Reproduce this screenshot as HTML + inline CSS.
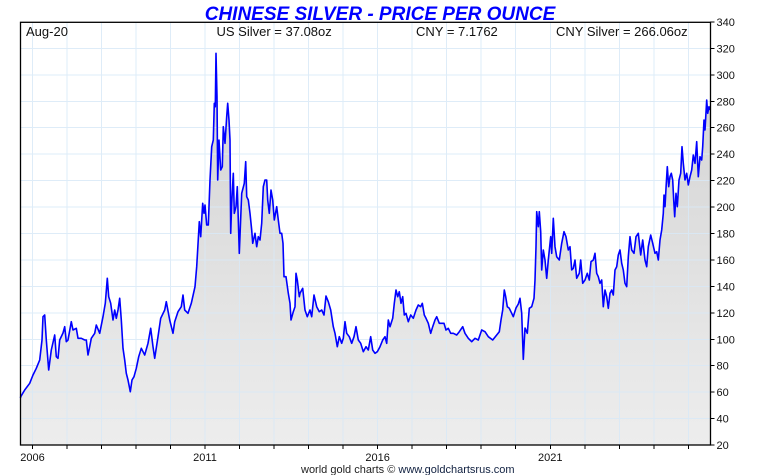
<!DOCTYPE html>
<html><head><meta charset="utf-8"><style>
html,body{margin:0;padding:0;background:#fff;}
svg{display:block;font-family:"Liberation Sans",Arial,sans-serif;}
</style></head><body>
<svg width="760" height="475" viewBox="0 0 760 475" xmlns="http://www.w3.org/2000/svg">
<defs>
<linearGradient id="g" gradientUnits="userSpaceOnUse" x1="0" y1="50" x2="0" y2="445">
<stop offset="0" stop-color="#d2d2d2"/><stop offset="1" stop-color="#ededed"/>
</linearGradient>
</defs>
<rect x="0" y="0" width="760" height="475" fill="#fff"/>
<path id="area" fill="url(#g)" stroke="none" d="M20.5,398 L20.7,396.7 24.7,390 29.7,383.3 33,375 36.3,368.3 39.7,360 42,340 43,316.7 44.7,315 46.3,340 48.7,370 51.3,350 54.7,335 56.3,356.7 58,358.3 59.7,340 63,333 64.7,326.7 66.3,341.7 68,340 71.3,321.7 73,330 76.3,328.3 78,338.3 81.3,338.3 84.7,340 86.3,340 88,355 89.7,346.7 91.3,338.3 94.7,333.3 96.3,325 99.7,333.3 103,316.7 105.3,303.3 107.3,278.3 108.7,296.7 110.7,303.3 113,320 114.7,310 116.3,318.3 118,310 119.7,298.3 121.3,320 123,348.3 124.7,360 126.3,373.3 128,380 130.3,391.7 132,380 134,376.7 136.3,368.3 138.7,356.7 141.3,348.3 144.7,355 148,343.3 150.7,328.3 153,346.7 154.7,358.3 158,336.7 160.7,318.3 164.7,310 166.3,301.7 169.7,320 173,333.3 174.7,321.7 178,311.7 181.3,306.7 183,295 184.7,310 188,313.3 191.3,303.3 195,286.7 196.7,266.7 199.3,221.7 200.7,236.7 202.7,203.3 204,213.3 205,205 206.7,225 208.3,225 210,180 211.7,146.7 213.3,140 214.3,103.3 215.3,106.7 216,53.3 217,96.7 217.7,180 219,140 220.7,170 222.3,166.7 223.3,126.7 225,143.3 226.7,116.7 227.7,103.3 229,120 230,140 230.7,233.3 231.7,203.3 233.3,173.3 234.3,213.3 236,206.7 237.3,186.7 239.3,253.3 241.7,193.3 244.3,183.3 245.7,161.7 246.7,196.7 248.3,200 250,213.3 251.7,230 252.7,243.3 255,233.3 256.7,246.7 258.3,236.7 260,240 261.7,223.3 263.3,186.7 265,180 266.7,180 267.7,200 269.3,213.3 271,190 272.7,200 274.3,220 276.7,206.7 278.3,220 280,233.3 281.7,233.3 283,243.3 284,276.7 286,276.7 288.3,293.3 290,303.3 291,320 293.3,311.7 295,306.7 296,273.3 297.3,280 299.3,296.7 300,293.3 302.7,288.3 305,310 307.3,316.7 310,310 311.7,316.7 314,295 316.7,306.7 319.3,311.7 321.7,310 324,315 326,296 328.3,301.7 330.7,310 333.3,326.7 335,333.3 337.3,346.7 339.3,336.7 341.7,343.3 343.3,338.3 345,321.7 346.7,333.3 349.3,336.7 351.7,343.3 354,336.7 356,326.7 358.3,340 360.7,343.3 363.3,351.7 366,346.7 368.3,350 370.7,336.7 372.7,350 375,353.3 377.3,351.7 380,346.7 382.7,340 385,336.7 386.7,343.3 388.3,320 390,326.7 392.7,318.3 394.3,303.3 396,290 397.7,296.7 399.3,291.7 401,303.3 402.7,296.7 404.3,315 406,313.3 408.3,321.7 410.7,315 413.3,318.3 416,310 418.3,305 420.7,306.7 422.3,303.3 424.3,315 426,318.3 428.3,323.3 430.7,333.3 432.7,326.7 435,320 436.7,316.7 439.3,323.3 441.7,323.3 444,323.3 446,330 448.3,328.3 450.7,333.3 453.3,333.3 456.7,335 459.3,331.7 462.7,326.7 465,333.3 468.3,338.3 471.7,341.7 475,338.3 478.3,340 481.7,330 485,331.7 488.3,336.7 492.7,340 496.7,335 499.3,331.7 501,320 502.7,310 504.3,290 505.7,296.7 507.3,306.7 509.3,308.3 511.7,313.3 513.3,316.7 516,308 518.3,304 520,298.3 521.7,313.3 523.3,359.3 525,328 527.3,333.3 529.3,308.3 531.7,306.7 534,298.3 535,280 536,246.7 536.7,211.7 538.3,226.7 539.3,211.7 540.7,231.7 541.7,270 543.3,250 545,260 546.7,278.3 548.3,260 550.7,236.7 551.7,253.3 553.3,218.3 555,246.7 556.7,256.7 559.3,260 561.7,243.3 564,231.7 566,236.7 568.3,250 570,246.7 571.7,270 573.3,268.3 575,260 576.7,278.3 579.3,273.3 580.7,260 582.7,283.3 585,280 587.3,273.3 589.3,280 591,261.7 593.3,260 595,253.3 596.7,273.3 598.3,276.7 600,283.3 601.7,280 603.3,306.7 605,290 606.7,296.7 608.3,308.3 610,293.3 611.7,290 613.3,295 615,270 616.7,266.7 618.3,255 620,250 621.7,263.3 623.3,270 625,283.3 626.7,286.7 628.3,256.7 630,236.7 631.7,250 634,253.3 636,236.7 638.3,233.3 640.7,255 642.7,240 645,260 646.7,266.7 648.3,246.7 650.7,235 652.7,243.3 655,253.3 656.7,251.7 658.3,260 660,240 661.7,230 663.3,213.3 664,195 665,206.7 666,188.3 667.3,166.7 668.7,186.7 670,176.7 671.3,173.3 672.7,180 673.7,200 674.7,216.7 676,193.3 677.3,206.7 679,180 680.7,173.3 682,146.7 683.3,163.3 685,180 686.7,173.3 688.3,185 690,176.7 691.7,170 693.3,155 695,163.3 696.7,141.7 698.3,176.7 700,156.7 701.7,160 702.7,146.7 704,120 705,130 706.7,100 707.7,113.3 709,106.7 710,110 L710,445 L20.5,445 Z"/>
<!-- grid -->
<g stroke="#d9e9f7" stroke-width="1" opacity="0.85" shape-rendering="crispEdges">
<line x1="20" y1="48.4" x2="710" y2="48.4"/><line x1="20" y1="74.9" x2="710" y2="74.9"/><line x1="20" y1="101.3" x2="710" y2="101.3"/><line x1="20" y1="127.7" x2="710" y2="127.7"/><line x1="20" y1="154.2" x2="710" y2="154.2"/><line x1="20" y1="180.6" x2="710" y2="180.6"/><line x1="20" y1="207.1" x2="710" y2="207.1"/><line x1="20" y1="233.5" x2="710" y2="233.5"/><line x1="20" y1="259.9" x2="710" y2="259.9"/><line x1="20" y1="286.4" x2="710" y2="286.4"/><line x1="20" y1="312.8" x2="710" y2="312.8"/><line x1="20" y1="339.3" x2="710" y2="339.3"/><line x1="20" y1="365.7" x2="710" y2="365.7"/><line x1="20" y1="392.1" x2="710" y2="392.1"/><line x1="20" y1="418.6" x2="710" y2="418.6"/>
<line x1="32.3" y1="22" x2="32.3" y2="445"/><line x1="66.8" y1="22" x2="66.8" y2="445"/><line x1="101.4" y1="22" x2="101.4" y2="445"/><line x1="135.9" y1="22" x2="135.9" y2="445"/><line x1="170.4" y1="22" x2="170.4" y2="445"/><line x1="205" y1="22" x2="205" y2="445"/><line x1="239.5" y1="22" x2="239.5" y2="445"/><line x1="274" y1="22" x2="274" y2="445"/><line x1="308.5" y1="22" x2="308.5" y2="445"/><line x1="343.1" y1="22" x2="343.1" y2="445"/><line x1="377.6" y1="22" x2="377.6" y2="445"/><line x1="412.1" y1="22" x2="412.1" y2="445"/><line x1="446.7" y1="22" x2="446.7" y2="445"/><line x1="481.2" y1="22" x2="481.2" y2="445"/><line x1="515.7" y1="22" x2="515.7" y2="445"/><line x1="550.3" y1="22" x2="550.3" y2="445"/><line x1="584.8" y1="22" x2="584.8" y2="445"/><line x1="619.3" y1="22" x2="619.3" y2="445"/><line x1="653.9" y1="22" x2="653.9" y2="445"/><line x1="688.4" y1="22" x2="688.4" y2="445"/>
</g>
<!-- series line -->
<path fill="none" stroke="#0000ff" stroke-width="1.6" stroke-linejoin="round" d="M20.5,398 L20.7,396.7 24.7,390 29.7,383.3 33,375 36.3,368.3 39.7,360 42,340 43,316.7 44.7,315 46.3,340 48.7,370 51.3,350 54.7,335 56.3,356.7 58,358.3 59.7,340 63,333 64.7,326.7 66.3,341.7 68,340 71.3,321.7 73,330 76.3,328.3 78,338.3 81.3,338.3 84.7,340 86.3,340 88,355 89.7,346.7 91.3,338.3 94.7,333.3 96.3,325 99.7,333.3 103,316.7 105.3,303.3 107.3,278.3 108.7,296.7 110.7,303.3 113,320 114.7,310 116.3,318.3 118,310 119.7,298.3 121.3,320 123,348.3 124.7,360 126.3,373.3 128,380 130.3,391.7 132,380 134,376.7 136.3,368.3 138.7,356.7 141.3,348.3 144.7,355 148,343.3 150.7,328.3 153,346.7 154.7,358.3 158,336.7 160.7,318.3 164.7,310 166.3,301.7 169.7,320 173,333.3 174.7,321.7 178,311.7 181.3,306.7 183,295 184.7,310 188,313.3 191.3,303.3 195,286.7 196.7,266.7 199.3,221.7 200.7,236.7 202.7,203.3 204,213.3 205,205 206.7,225 208.3,225 210,180 211.7,146.7 213.3,140 214.3,103.3 215.3,106.7 216,53.3 217,96.7 217.7,180 219,140 220.7,170 222.3,166.7 223.3,126.7 225,143.3 226.7,116.7 227.7,103.3 229,120 230,140 230.7,233.3 231.7,203.3 233.3,173.3 234.3,213.3 236,206.7 237.3,186.7 239.3,253.3 241.7,193.3 244.3,183.3 245.7,161.7 246.7,196.7 248.3,200 250,213.3 251.7,230 252.7,243.3 255,233.3 256.7,246.7 258.3,236.7 260,240 261.7,223.3 263.3,186.7 265,180 266.7,180 267.7,200 269.3,213.3 271,190 272.7,200 274.3,220 276.7,206.7 278.3,220 280,233.3 281.7,233.3 283,243.3 284,276.7 286,276.7 288.3,293.3 290,303.3 291,320 293.3,311.7 295,306.7 296,273.3 297.3,280 299.3,296.7 300,293.3 302.7,288.3 305,310 307.3,316.7 310,310 311.7,316.7 314,295 316.7,306.7 319.3,311.7 321.7,310 324,315 326,296 328.3,301.7 330.7,310 333.3,326.7 335,333.3 337.3,346.7 339.3,336.7 341.7,343.3 343.3,338.3 345,321.7 346.7,333.3 349.3,336.7 351.7,343.3 354,336.7 356,326.7 358.3,340 360.7,343.3 363.3,351.7 366,346.7 368.3,350 370.7,336.7 372.7,350 375,353.3 377.3,351.7 380,346.7 382.7,340 385,336.7 386.7,343.3 388.3,320 390,326.7 392.7,318.3 394.3,303.3 396,290 397.7,296.7 399.3,291.7 401,303.3 402.7,296.7 404.3,315 406,313.3 408.3,321.7 410.7,315 413.3,318.3 416,310 418.3,305 420.7,306.7 422.3,303.3 424.3,315 426,318.3 428.3,323.3 430.7,333.3 432.7,326.7 435,320 436.7,316.7 439.3,323.3 441.7,323.3 444,323.3 446,330 448.3,328.3 450.7,333.3 453.3,333.3 456.7,335 459.3,331.7 462.7,326.7 465,333.3 468.3,338.3 471.7,341.7 475,338.3 478.3,340 481.7,330 485,331.7 488.3,336.7 492.7,340 496.7,335 499.3,331.7 501,320 502.7,310 504.3,290 505.7,296.7 507.3,306.7 509.3,308.3 511.7,313.3 513.3,316.7 516,308 518.3,304 520,298.3 521.7,313.3 523.3,359.3 525,328 527.3,333.3 529.3,308.3 531.7,306.7 534,298.3 535,280 536,246.7 536.7,211.7 538.3,226.7 539.3,211.7 540.7,231.7 541.7,270 543.3,250 545,260 546.7,278.3 548.3,260 550.7,236.7 551.7,253.3 553.3,218.3 555,246.7 556.7,256.7 559.3,260 561.7,243.3 564,231.7 566,236.7 568.3,250 570,246.7 571.7,270 573.3,268.3 575,260 576.7,278.3 579.3,273.3 580.7,260 582.7,283.3 585,280 587.3,273.3 589.3,280 591,261.7 593.3,260 595,253.3 596.7,273.3 598.3,276.7 600,283.3 601.7,280 603.3,306.7 605,290 606.7,296.7 608.3,308.3 610,293.3 611.7,290 613.3,295 615,270 616.7,266.7 618.3,255 620,250 621.7,263.3 623.3,270 625,283.3 626.7,286.7 628.3,256.7 630,236.7 631.7,250 634,253.3 636,236.7 638.3,233.3 640.7,255 642.7,240 645,260 646.7,266.7 648.3,246.7 650.7,235 652.7,243.3 655,253.3 656.7,251.7 658.3,260 660,240 661.7,230 663.3,213.3 664,195 665,206.7 666,188.3 667.3,166.7 668.7,186.7 670,176.7 671.3,173.3 672.7,180 673.7,200 674.7,216.7 676,193.3 677.3,206.7 679,180 680.7,173.3 682,146.7 683.3,163.3 685,180 686.7,173.3 688.3,185 690,176.7 691.7,170 693.3,155 695,163.3 696.7,141.7 698.3,176.7 700,156.7 701.7,160 702.7,146.7 704,120 705,130 706.7,100 707.7,113.3 709,106.7 710,110"/>
<!-- frame -->
<g stroke="#000" stroke-width="1.3" fill="none">
<rect x="20.5" y="22.3" width="690" height="422.7"/>
</g>
<!-- ticks -->
<g stroke="#000" stroke-width="1" shape-rendering="crispEdges">
<line x1="710" y1="22" x2="714.5" y2="22"/><line x1="710" y1="48.4" x2="714.5" y2="48.4"/><line x1="710" y1="74.9" x2="714.5" y2="74.9"/><line x1="710" y1="101.3" x2="714.5" y2="101.3"/><line x1="710" y1="127.7" x2="714.5" y2="127.7"/><line x1="710" y1="154.2" x2="714.5" y2="154.2"/><line x1="710" y1="180.6" x2="714.5" y2="180.6"/><line x1="710" y1="207.1" x2="714.5" y2="207.1"/><line x1="710" y1="233.5" x2="714.5" y2="233.5"/><line x1="710" y1="259.9" x2="714.5" y2="259.9"/><line x1="710" y1="286.4" x2="714.5" y2="286.4"/><line x1="710" y1="312.8" x2="714.5" y2="312.8"/><line x1="710" y1="339.3" x2="714.5" y2="339.3"/><line x1="710" y1="365.7" x2="714.5" y2="365.7"/><line x1="710" y1="392.1" x2="714.5" y2="392.1"/><line x1="710" y1="418.6" x2="714.5" y2="418.6"/><line x1="710" y1="445" x2="714.5" y2="445"/>
<line x1="32.3" y1="445" x2="32.3" y2="449"/><line x1="66.8" y1="445" x2="66.8" y2="449"/><line x1="101.4" y1="445" x2="101.4" y2="449"/><line x1="135.9" y1="445" x2="135.9" y2="449"/><line x1="170.4" y1="445" x2="170.4" y2="449"/><line x1="205" y1="445" x2="205" y2="449"/><line x1="239.5" y1="445" x2="239.5" y2="449"/><line x1="274" y1="445" x2="274" y2="449"/><line x1="308.5" y1="445" x2="308.5" y2="449"/><line x1="343.1" y1="445" x2="343.1" y2="449"/><line x1="377.6" y1="445" x2="377.6" y2="449"/><line x1="412.1" y1="445" x2="412.1" y2="449"/><line x1="446.7" y1="445" x2="446.7" y2="449"/><line x1="481.2" y1="445" x2="481.2" y2="449"/><line x1="515.7" y1="445" x2="515.7" y2="449"/><line x1="550.3" y1="445" x2="550.3" y2="449"/><line x1="584.8" y1="445" x2="584.8" y2="449"/><line x1="619.3" y1="445" x2="619.3" y2="449"/><line x1="653.9" y1="445" x2="653.9" y2="449"/><line x1="688.4" y1="445" x2="688.4" y2="449"/>
</g>
<!-- right axis labels -->
<g font-size="11" fill="#111">
<text x="716.5" y="26">340</text><text x="716.5" y="52.4">320</text><text x="716.5" y="78.9">300</text><text x="716.5" y="105.3">280</text><text x="716.5" y="131.7">260</text><text x="716.5" y="158.2">240</text><text x="716.5" y="184.6">220</text><text x="716.5" y="211.1">200</text><text x="716.5" y="237.5">180</text><text x="716.5" y="263.9">160</text><text x="716.5" y="290.4">140</text><text x="716.5" y="316.8">120</text><text x="716.5" y="343.3">100</text><text x="716.5" y="369.7">80</text><text x="716.5" y="396.1">60</text><text x="716.5" y="422.6">40</text><text x="716.5" y="449">20</text>
</g>
<!-- bottom labels -->
<g font-size="11" fill="#111" text-anchor="middle">
<text x="32.5" y="461">2006</text><text x="205" y="461">2011</text><text x="377.6" y="461">2016</text><text x="550.3" y="461">2021</text>
</g>
<!-- title -->
<text x="380" y="20" font-size="19" font-weight="bold" font-style="italic" fill="#0000ff" text-anchor="middle">CHINESE SILVER - PRICE PER OUNCE</text>
<!-- header -->
<g font-size="13" fill="#111">
<text x="26" y="36">Aug-20</text>
<text x="216.5" y="36">US Silver = 37.08oz</text>
<text x="416" y="36">CNY = 7.1762</text>
<text x="556" y="36">CNY Silver = 266.06oz</text>
</g>
<!-- footer -->
<text x="301" y="473" font-size="11" fill="#222">world gold charts © <tspan fill="#102040">www.goldchartsrus.com</tspan></text>
</svg>
</body></html>
